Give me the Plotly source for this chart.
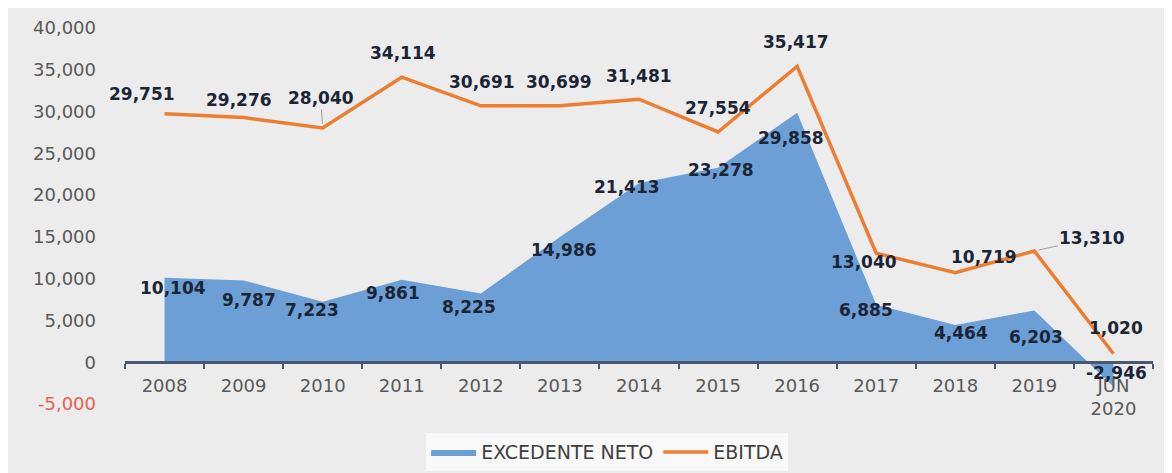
import plotly.graph_objects as go

categories = ["2008", "2009", "2010", "2011", "2012", "2013", "2014", "2015",
              "2016", "2017", "2018", "2019", "JUN<br>2020"]
excedente_neto = [10104, 9787, 7223, 9861, 8225, 14986, 21413, 23278,
                  29858, 6885, 4464, 6203, -2946]
ebitda = [29751, 29276, 28040, 34114, 30691, 30699, 31481, 27554,
          35417, 13040, 10719, 13310, 1020]
y_ticks = [-5000, 0, 5000, 10000, 15000, 20000, 25000, 30000, 35000, 40000]

# label offsets in pixels (style only)
eb_off = [(-23, 20), (-5, 18), (-2, 30), (1, 24), (1, 24), (-1, 24), (0, 23),
          (0, 24), (-1, 24), (-12, -9), (29, 16), (58, 13), (3, 26)]
ex_off = [(8, -10), (5, -20), (-11, -8), (-9, -13), (-12, -13), (4, -13),
          (-12, -4), (3, -2), (-6, -25), (-10, -5), (6, -8), (2, -27), (3, 14)]
eb_leader = {2, 11}

fig = go.Figure()
fig.add_trace(go.Scatter(
    x=categories, y=excedente_neto, name="EXCEDENTE NETO", mode="lines",
    fill="tozeroy", fillcolor="#6c9fd5", line=dict(color="#6c9fd5", width=0),
    hoverinfo="x+y"))
fig.add_trace(go.Scatter(
    x=categories, y=ebitda, name="EBITDA", mode="lines",
    line=dict(color="#ed7d31", width=3.5), hoverinfo="x+y"))

label_font = dict(family="DejaVu Sans", size=17, color="#1c2536")
annotations = []
for i, v in enumerate(ebitda):
    dx, dy = eb_off[i]
    if i in eb_leader:
        annotations.append(dict(x=i, y=v, xref="x", yref="y", text=f"<b>{v:,}</b>",
                                showarrow=True, arrowhead=0, arrowwidth=1,
                                arrowcolor="#a0a0a0", ax=dx, ay=-dy, standoff=4,
                                font=label_font))
    else:
        annotations.append(dict(x=i, y=v, xref="x", yref="y", text=f"<b>{v:,}</b>",
                                showarrow=False, xshift=dx, yshift=dy, font=label_font))
for i, v in enumerate(excedente_neto):
    dx, dy = ex_off[i]
    annotations.append(dict(x=i, y=v, xref="x", yref="y", text=f"<b>{v:,}</b>",
                            showarrow=False, xshift=dx, yshift=dy, font=label_font))

tick_text = []
for t in y_ticks:
    s = f"{t:,}"
    if t < 0:
        s = f'<span style="color:#e8604f">{s}</span>'
    tick_text.append(s)

zero_pos = (0 - y_ticks[0]) / (y_ticks[-1] - y_ticks[0])

fig.update_layout(
    width=1164, height=465,
    margin=dict(l=117, r=19, t=20, b=69, autoexpand=False),
    paper_bgcolor="#ececec", plot_bgcolor="rgba(0,0,0,0)",
    font=dict(family="DejaVu Sans", size=18, color="#595959"),
    showlegend=True,
    legend=dict(orientation="h", x=0.469, y=-0.128, xanchor="center", yanchor="middle",
                bgcolor="#f9f9f9", font=dict(size=19, color="#404040"),
                itemwidth=45),
    annotations=annotations,
    xaxis=dict(type="category", range=[-0.5, len(categories) - 0.5],
               anchor="free", position=zero_pos, showline=True,
               linecolor="#4a5870", linewidth=2.5, ticks="outside",
               tickson="boundaries", ticklen=5, tickcolor="#4a5870",
               tickwidth=2, showgrid=False, zeroline=False, automargin=False,
               ticklabelstandoff=6,
               tickfont=dict(size=18, color="#595959")),
    yaxis=dict(range=[y_ticks[0], y_ticks[-1]], tickvals=y_ticks,
               ticktext=tick_text, showgrid=False, zeroline=False,
               showline=False, ticks="", ticklabelstandoff=28, automargin=False,
               tickfont=dict(size=18, color="#595959")),
)

fig.write_html("out.html")
